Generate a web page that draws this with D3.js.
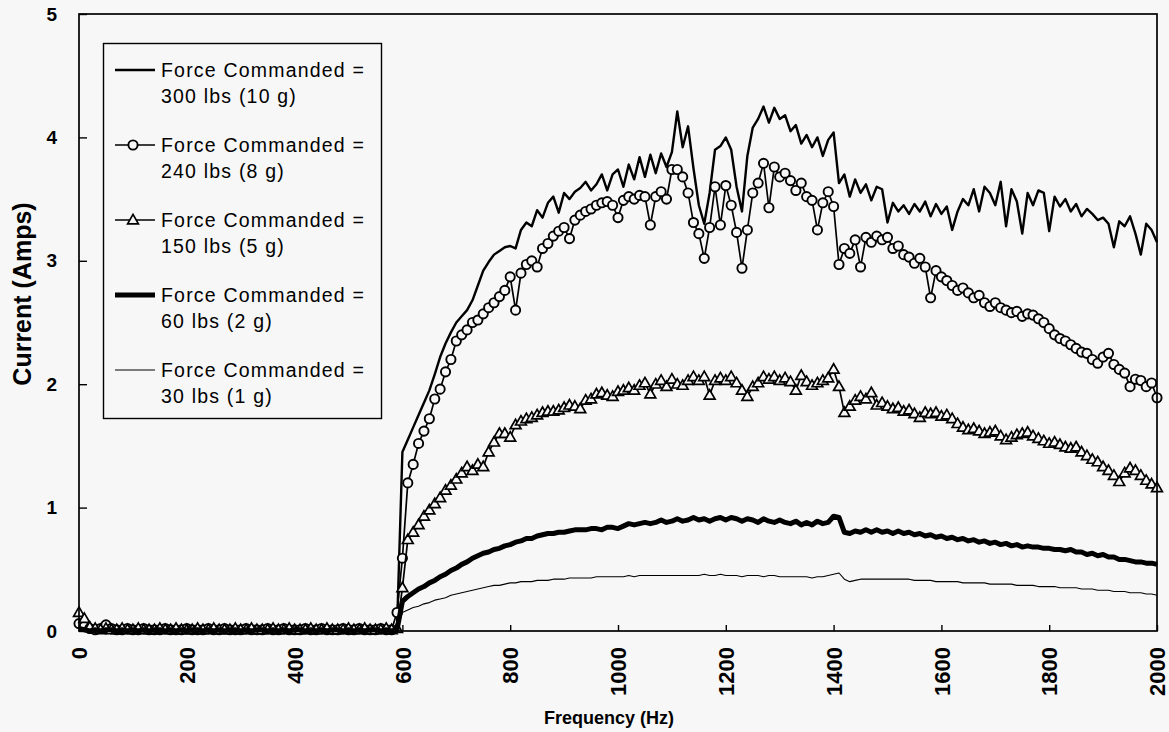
<!DOCTYPE html>
<html>
<head>
<meta charset="utf-8">
<script src="https://cdn.jsdelivr.net/npm/d3@7"></script>
<style>
  html, body { margin: 0; padding: 0; background: #f7f7f7; }
  svg { display: block; font-family: "Liberation Sans", Arial, sans-serif; }
</style>
</head>
<body>
<svg id="chart" width="1169" height="732"></svg>
<script>
// Drive frequency sweep, sampled every 10 Hz from 0 to 2000 Hz
const frequencyHz = d3.range(0, 2001, 10);

// Measured coil current (A) for each commanded force level, one value per sample
const current300 = [
  0.05, 0.03, 0.01, 0.02, 0.01, 0.03, 0.02, 0.01, 0.01, 0.02,
  0.01, 0.01, 0.02, 0.01, 0.01, 0.02, 0.01, 0.01, 0.01, 0.02,
  0.01, 0.01, 0.02, 0.01, 0.01, 0.02, 0.01, 0.01, 0.01, 0.02,
  0.01, 0.02, 0.01, 0.01, 0.02, 0.01, 0.01, 0.01, 0.02, 0.01,
  0.01, 0.02, 0.01, 0.01, 0.01, 0.02, 0.01, 0.01, 0.02, 0.01,
  0.01, 0.01, 0.02, 0.01, 0.01, 0.02, 0.01, 0.01, 0.01, 0.02,
  1.45, 1.55, 1.65, 1.75, 1.85, 1.95, 2.08, 2.22, 2.33, 2.42,
  2.50, 2.55, 2.60, 2.68, 2.80, 2.92, 2.99, 3.05, 3.08, 3.11,
  3.12, 3.10, 3.25, 3.31, 3.28, 3.41, 3.35, 3.47, 3.52, 3.39,
  3.55, 3.50, 3.56, 3.59, 3.64, 3.57, 3.62, 3.70, 3.57, 3.70,
  3.74, 3.60, 3.78, 3.66, 3.84, 3.68, 3.86, 3.71, 3.87, 3.76,
  3.88, 4.21, 3.92, 4.09, 3.75, 3.45, 3.30, 3.55, 3.90, 3.93,
  4.00, 3.90, 3.60, 3.40, 3.85, 4.08, 4.15, 4.25, 4.12, 4.24,
  4.15, 4.18, 4.05, 4.10, 3.95, 4.02, 3.92, 4.00, 3.85, 3.98,
  4.04, 3.63, 3.70, 3.52, 3.66, 3.55, 3.62, 3.49, 3.60, 3.58,
  3.31, 3.47, 3.40, 3.45, 3.38, 3.46, 3.40, 3.48, 3.36, 3.46,
  3.38, 3.44, 3.25, 3.40, 3.50, 3.45, 3.58, 3.40, 3.60, 3.55,
  3.45, 3.64, 3.28, 3.58, 3.48, 3.22, 3.55, 3.45, 3.57, 3.55,
  3.24, 3.52, 3.44, 3.50, 3.40, 3.46, 3.36, 3.42, 3.38, 3.33,
  3.35, 3.30, 3.11, 3.32, 3.28, 3.36, 3.22, 3.05, 3.30, 3.25,
  3.15
];

const current240 = [
  0.06, 0.04, 0.02, 0.01, 0.02, 0.05, 0.02, 0.01, 0.01, 0.02,
  0.01, 0.01, 0.02, 0.01, 0.01, 0.01, 0.02, 0.01, 0.01, 0.01,
  0.02, 0.01, 0.01, 0.01, 0.02, 0.01, 0.01, 0.02, 0.01, 0.01,
  0.01, 0.02, 0.01, 0.01, 0.01, 0.02, 0.01, 0.01, 0.02, 0.01,
  0.01, 0.01, 0.02, 0.01, 0.01, 0.02, 0.01, 0.01, 0.01, 0.02,
  0.01, 0.01, 0.02, 0.01, 0.01, 0.01, 0.02, 0.01, 0.01, 0.15,
  0.59, 1.20, 1.35, 1.52, 1.62, 1.72, 1.88, 1.96, 2.10, 2.20,
  2.35, 2.40, 2.44, 2.50, 2.52, 2.57, 2.62, 2.66, 2.71, 2.76,
  2.87, 2.60, 2.90, 2.97, 3.00, 2.95, 3.10, 3.14, 3.20, 3.24,
  3.27, 3.18, 3.33, 3.37, 3.40, 3.42, 3.45, 3.47, 3.48, 3.45,
  3.35, 3.49, 3.52, 3.50, 3.53, 3.52, 3.29, 3.52, 3.56, 3.50,
  3.74, 3.74, 3.68, 3.55, 3.31, 3.22, 3.02, 3.27, 3.60, 3.29,
  3.61, 3.45, 3.23, 2.94, 3.25, 3.55, 3.63, 3.79, 3.43, 3.76,
  3.68, 3.71, 3.65, 3.57, 3.63, 3.52, 3.49, 3.25, 3.47, 3.56,
  3.44, 2.97, 3.10, 3.06, 3.17, 2.95, 3.19, 3.15, 3.20, 3.17,
  3.19, 3.10, 3.12, 3.05, 3.03, 2.98, 3.02, 2.95, 2.70, 2.92,
  2.87, 2.84, 2.80, 2.76, 2.78, 2.74, 2.70, 2.72, 2.66, 2.63,
  2.66, 2.62, 2.60, 2.58, 2.59, 2.55, 2.57, 2.56, 2.53, 2.50,
  2.45, 2.40, 2.37, 2.35, 2.32, 2.29, 2.26, 2.25, 2.20, 2.17,
  2.22, 2.25, 2.16, 2.12, 2.09, 1.98, 2.04, 2.03, 1.98, 2.01,
  1.89
];

const current150 = [
  0.15, 0.10, 0.03, 0.02, 0.01, 0.02, 0.01, 0.01, 0.02, 0.01,
  0.01, 0.02, 0.01, 0.01, 0.01, 0.02, 0.01, 0.01, 0.02, 0.01,
  0.01, 0.01, 0.02, 0.01, 0.01, 0.02, 0.01, 0.01, 0.01, 0.02,
  0.01, 0.01, 0.02, 0.01, 0.01, 0.01, 0.02, 0.01, 0.01, 0.02,
  0.01, 0.01, 0.01, 0.02, 0.01, 0.01, 0.02, 0.01, 0.01, 0.01,
  0.02, 0.01, 0.01, 0.02, 0.01, 0.01, 0.01, 0.02, 0.01, 0.02,
  0.35, 0.74, 0.80, 0.86, 0.93, 0.98, 1.03, 1.08, 1.14, 1.18,
  1.23, 1.28, 1.33, 1.30, 1.35, 1.33, 1.45, 1.53, 1.60, 1.60,
  1.57, 1.67, 1.70, 1.72, 1.73, 1.75, 1.77, 1.78, 1.78, 1.79,
  1.81, 1.83, 1.82, 1.80, 1.87, 1.88, 1.92, 1.93, 1.91, 1.90,
  1.94, 1.95, 1.97, 1.95, 1.99, 2.01, 1.92, 2.00, 2.03, 1.98,
  2.04, 2.00, 1.99, 2.03, 2.06, 2.03, 2.06, 1.91, 2.03, 2.05,
  2.03, 2.06, 2.01, 1.95, 1.90, 1.98, 2.01, 2.06, 2.04, 2.06,
  2.03, 2.05, 2.02, 1.95, 2.07, 2.02, 1.99, 2.01, 2.03, 2.05,
  2.12, 1.98, 1.77, 1.82, 1.87, 1.90, 1.88, 1.93, 1.83, 1.85,
  1.82, 1.80, 1.81, 1.78, 1.79, 1.76, 1.73, 1.77, 1.76, 1.77,
  1.74, 1.75, 1.72, 1.68, 1.65, 1.63, 1.64, 1.62, 1.60, 1.61,
  1.62, 1.58, 1.55, 1.57, 1.59, 1.60, 1.61, 1.58, 1.56, 1.54,
  1.52, 1.53, 1.51, 1.49, 1.48, 1.49, 1.45, 1.42, 1.39, 1.37,
  1.33, 1.30, 1.26, 1.21, 1.28, 1.32, 1.30, 1.26, 1.22, 1.19,
  1.16
];

const current60 = [
  0.02, 0.01, 0.00, 0.01, 0.00, 0.01, 0.01, 0.00, 0.01, 0.00,
  0.01, 0.00, 0.01, 0.00, 0.01, 0.01, 0.00, 0.01, 0.00, 0.01,
  0.00, 0.01, 0.01, 0.00, 0.01, 0.00, 0.01, 0.00, 0.01, 0.01,
  0.00, 0.01, 0.00, 0.01, 0.01, 0.00, 0.01, 0.00, 0.01, 0.00,
  0.01, 0.01, 0.00, 0.01, 0.00, 0.01, 0.00, 0.01, 0.01, 0.00,
  0.01, 0.00, 0.01, 0.00, 0.01, 0.01, 0.00, 0.01, 0.00, 0.01,
  0.24, 0.28, 0.31, 0.34, 0.36, 0.39, 0.41, 0.44, 0.46, 0.49,
  0.51, 0.54, 0.56, 0.59, 0.61, 0.63, 0.64, 0.66, 0.67, 0.69,
  0.70, 0.72, 0.73, 0.75, 0.75, 0.77, 0.78, 0.79, 0.79, 0.80,
  0.80, 0.81, 0.82, 0.82, 0.82, 0.83, 0.83, 0.82, 0.84, 0.84,
  0.83, 0.85, 0.87, 0.86, 0.87, 0.88, 0.87, 0.88, 0.90, 0.88,
  0.89, 0.91, 0.89, 0.90, 0.92, 0.90, 0.91, 0.89, 0.91, 0.92,
  0.90, 0.92, 0.91, 0.89, 0.91, 0.90, 0.88, 0.91, 0.89, 0.88,
  0.90, 0.88, 0.87, 0.89, 0.86, 0.88, 0.86, 0.89, 0.87, 0.88,
  0.93, 0.92, 0.80, 0.79, 0.81, 0.80, 0.82, 0.80, 0.82, 0.80,
  0.81, 0.79, 0.81, 0.79, 0.80, 0.78, 0.79, 0.77, 0.78, 0.76,
  0.77, 0.75, 0.76, 0.74, 0.75, 0.73, 0.74, 0.72, 0.73, 0.71,
  0.72, 0.70, 0.71, 0.69, 0.70, 0.68, 0.69, 0.68, 0.68, 0.67,
  0.67, 0.66, 0.66, 0.65, 0.66, 0.64, 0.64, 0.62, 0.63, 0.61,
  0.62, 0.60, 0.60, 0.58, 0.58, 0.57, 0.56, 0.56, 0.55, 0.55,
  0.54
];

const current30 = [
  0.01, 0.01, 0.00, 0.01, 0.00, 0.01, 0.00, 0.00, 0.01, 0.00,
  0.00, 0.01, 0.00, 0.00, 0.01, 0.00, 0.00, 0.01, 0.00, 0.00,
  0.01, 0.00, 0.00, 0.01, 0.00, 0.00, 0.01, 0.00, 0.00, 0.01,
  0.00, 0.00, 0.01, 0.00, 0.00, 0.01, 0.00, 0.00, 0.01, 0.00,
  0.00, 0.01, 0.00, 0.00, 0.01, 0.00, 0.00, 0.01, 0.00, 0.00,
  0.01, 0.00, 0.00, 0.01, 0.00, 0.00, 0.01, 0.00, 0.00, 0.01,
  0.15, 0.17, 0.19, 0.20, 0.22, 0.23, 0.25, 0.26, 0.27, 0.29,
  0.30, 0.31, 0.32, 0.33, 0.34, 0.35, 0.36, 0.37, 0.37, 0.38,
  0.39, 0.39, 0.40, 0.40, 0.40, 0.41, 0.41, 0.41, 0.42, 0.42,
  0.42, 0.43, 0.43, 0.43, 0.43, 0.43, 0.44, 0.44, 0.44, 0.44,
  0.44, 0.44, 0.45, 0.44, 0.45, 0.45, 0.45, 0.45, 0.45, 0.45,
  0.45, 0.45, 0.45, 0.45, 0.45, 0.45, 0.46, 0.45, 0.45, 0.46,
  0.45, 0.45, 0.45, 0.44, 0.45, 0.45, 0.45, 0.44, 0.45, 0.45,
  0.44, 0.44, 0.44, 0.44, 0.44, 0.44, 0.43, 0.44, 0.44, 0.45,
  0.46, 0.47, 0.42, 0.40, 0.41, 0.42, 0.42, 0.42, 0.42, 0.42,
  0.42, 0.42, 0.42, 0.42, 0.42, 0.41, 0.41, 0.41, 0.41, 0.40,
  0.40, 0.40, 0.40, 0.40, 0.39, 0.39, 0.39, 0.39, 0.39, 0.38,
  0.38, 0.38, 0.38, 0.38, 0.37, 0.37, 0.37, 0.37, 0.36, 0.36,
  0.36, 0.36, 0.35, 0.35, 0.35, 0.35, 0.34, 0.34, 0.34, 0.33,
  0.33, 0.33, 0.32, 0.32, 0.32, 0.31, 0.31, 0.31, 0.30, 0.30,
  0.29
];

const seriesLabels = [
  "300 lbs (10 g)", "240 lbs (8 g)", "150 lbs (5 g)", "60 lbs (2 g)", "30 lbs (1 g)"
];
const xTickValues = [0, 200, 400, 600, 800, 1000, 1200, 1400, 1600, 1800, 2000];
const yTickValues = [0, 1, 2, 3, 4, 5];

// Styling for each trace (same order as the labels)
const styles = [
  { width: 2.4, marker: null },
  { width: 1.7, marker: "circle" },
  { width: 1.7, marker: "triangle" },
  { width: 5.0, marker: null },
  { width: 1.1, marker: null }
];
const seriesValues = [current300, current240, current150, current60, current30];

const svg = d3.select("#chart");
const bg = "#f7f7f7";
svg.append("rect").attr("width", 1169).attr("height", 732).attr("fill", bg);

const x = d3.scaleLinear().domain([0, 2000]).range([79, 1157]);
const y = d3.scaleLinear().domain([0, 5]).range([631, 14]);

svg.append("defs").append("clipPath").attr("id", "plotClip")
  .append("rect").attr("x", 70).attr("y", 8).attr("width", 1095).attr("height", 632);

const trianglePath = "M0,-5.6L5.4,3.8L-5.4,3.8Z";
const circleR = 4.6;

const line = d3.line().x(d => x(d[0])).y(d => y(d[1]));

const plot = svg.append("g").attr("clip-path", "url(#plotClip)");

seriesValues.forEach((vals, i) => {
  const pts = frequencyHz.map((f, k) => [f, vals[k]]);
  const g = plot.append("g");
  g.append("path")
    .datum(pts)
    .attr("d", line)
    .attr("fill", "none")
    .attr("stroke", "#000")
    .attr("stroke-width", styles[i].width)
    .attr("stroke-linejoin", "round");
  if (styles[i].marker === "circle") {
    g.selectAll("circle").data(pts).join("circle")
      .attr("cx", d => x(d[0])).attr("cy", d => y(d[1]))
      .attr("r", circleR).attr("fill", bg).attr("stroke", "#000").attr("stroke-width", 1.9);
  } else if (styles[i].marker === "triangle") {
    g.selectAll("path.tri").data(pts).join("path")
      .attr("class", "tri")
      .attr("d", trianglePath)
      .attr("transform", d => `translate(${x(d[0])},${y(d[1])})`)
      .attr("fill", bg).attr("stroke", "#000").attr("stroke-width", 1.7);
  }
});

// Frame around the plotting area
svg.append("rect")
  .attr("x", 79).attr("y", 14).attr("width", 1078).attr("height", 617)
  .attr("fill", "none").attr("stroke", "#000").attr("stroke-width", 1.7);

// Axes
const yAxis = svg.append("g").attr("transform", "translate(79,0)")
  .call(d3.axisLeft(y).tickValues(yTickValues).tickSize(-8).tickPadding(22).tickFormat(d3.format("d")));
yAxis.select(".domain").remove();
yAxis.selectAll(".tick line").attr("stroke-width", 1.4);
yAxis.selectAll("text")
  .attr("font-size", 19).attr("font-weight", "bold").attr("fill", "#000")
  .attr("font-family", "'Liberation Sans', Arial, sans-serif");

const xAxis = svg.append("g").attr("transform", "translate(0,631)")
  .call(d3.axisBottom(x).tickValues(xTickValues).tickSize(-6).tickFormat(d3.format("d")));
xAxis.select(".domain").remove();
xAxis.selectAll(".tick line").attr("stroke-width", 1.4);
xAxis.selectAll("text")
  .attr("font-size", 22).attr("font-weight", "bold").attr("fill", "#000")
  .attr("font-family", "'Liberation Sans', Arial, sans-serif")
  .attr("transform", "rotate(-90)")
  .attr("text-anchor", "end")
  .attr("x", -16).attr("y", 0).attr("dy", "0.35em");

// Axis titles
svg.append("text")
  .attr("transform", "translate(31,294) rotate(-90)")
  .attr("text-anchor", "middle")
  .attr("font-size", 25).attr("font-weight", "bold")
  .text("Current (Amps)");

svg.append("text")
  .attr("x", 609).attr("y", 724)
  .attr("text-anchor", "middle")
  .attr("font-size", 18).attr("font-weight", "bold")
  .text("Frequency (Hz)");

// Legend
const legend = svg.append("g");
legend.append("rect")
  .attr("x", 103.5).attr("y", 43.5).attr("width", 278).attr("height", 375)
  .attr("fill", bg).attr("stroke", "#000").attr("stroke-width", 1.4);

seriesLabels.forEach((lab, i) => {
  const base = 77 + 75 * i;
  const ly = base - 7;
  const g = legend.append("g");
  g.append("line")
    .attr("x1", 115).attr("x2", 155).attr("y1", ly).attr("y2", ly)
    .attr("stroke", "#000").attr("stroke-width", styles[i].width);
  if (styles[i].marker === "circle") {
    g.append("circle").attr("cx", 133).attr("cy", ly).attr("r", circleR)
      .attr("fill", bg).attr("stroke", "#000").attr("stroke-width", 1.9);
  } else if (styles[i].marker === "triangle") {
    g.append("path").attr("d", trianglePath)
      .attr("transform", `translate(133,${ly})`)
      .attr("fill", bg).attr("stroke", "#000").attr("stroke-width", 1.7);
  }
  const t = g.append("text").attr("x", 161).attr("y", base)
    .attr("font-size", 19.5).attr("letter-spacing", 1.2).attr("fill", "#000");
  t.append("tspan").attr("x", 161).attr("y", base).text("Force Commanded =");
  t.append("tspan").attr("x", 161).attr("y", base + 26).text(lab);
});
</script>
</body>
</html>
